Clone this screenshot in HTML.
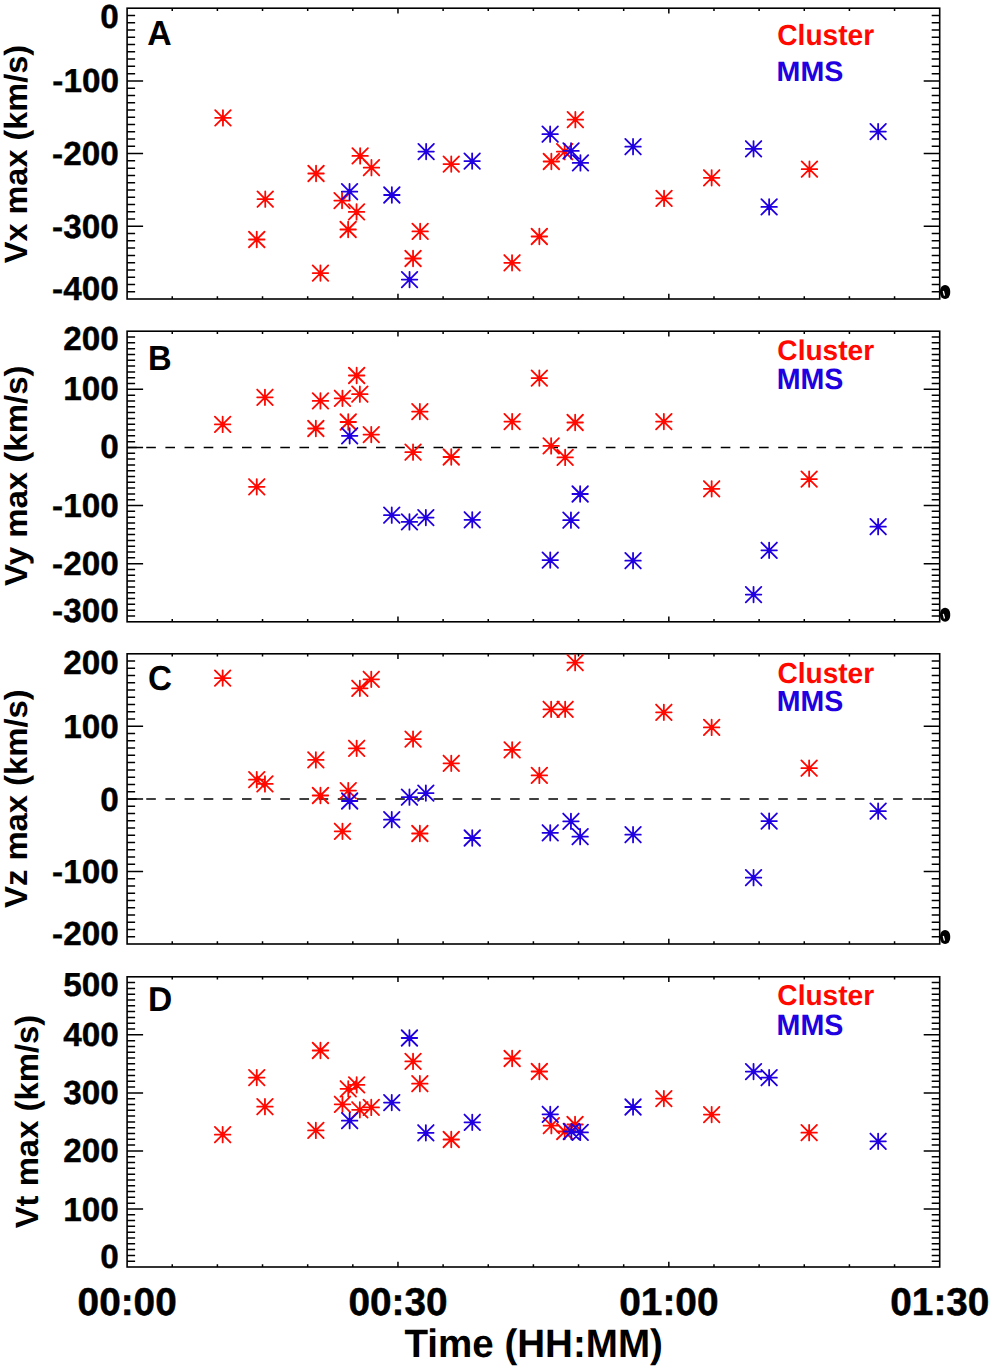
<!DOCTYPE html>
<html><head><meta charset="utf-8"><title>Velocity maxima</title>
<style>html,body{margin:0;padding:0;background:#fff;}svg{display:block;}text{font-family:"Liberation Sans",sans-serif;font-weight:bold;text-rendering:geometricPrecision;}</style></head><body>
<svg width="992" height="1369" viewBox="0 0 992 1369">
<rect width="992" height="1369" fill="#fff"/>
<path d="M127.10 291.73h8M939.70 291.73h-8M127.10 284.46h8M939.70 284.46h-8M127.10 277.19h8M939.70 277.19h-8M127.10 269.92h8M939.70 269.92h-8M127.10 262.65h8M939.70 262.65h-8M127.10 255.38h8M939.70 255.38h-8M127.10 248.11h8M939.70 248.11h-8M127.10 240.84h8M939.70 240.84h-8M127.10 233.57h8M939.70 233.57h-8M127.10 226.30h16M939.70 226.30h-16M127.10 219.03h8M939.70 219.03h-8M127.10 211.76h8M939.70 211.76h-8M127.10 204.49h8M939.70 204.49h-8M127.10 197.22h8M939.70 197.22h-8M127.10 189.95h8M939.70 189.95h-8M127.10 182.68h8M939.70 182.68h-8M127.10 175.41h8M939.70 175.41h-8M127.10 168.14h8M939.70 168.14h-8M127.10 160.87h8M939.70 160.87h-8M127.10 153.60h16M939.70 153.60h-16M127.10 146.33h8M939.70 146.33h-8M127.10 139.06h8M939.70 139.06h-8M127.10 131.79h8M939.70 131.79h-8M127.10 124.52h8M939.70 124.52h-8M127.10 117.25h8M939.70 117.25h-8M127.10 109.98h8M939.70 109.98h-8M127.10 102.71h8M939.70 102.71h-8M127.10 95.44h8M939.70 95.44h-8M127.10 88.17h8M939.70 88.17h-8M127.10 80.90h16M939.70 80.90h-16M127.10 73.63h8M939.70 73.63h-8M127.10 66.36h8M939.70 66.36h-8M127.10 59.09h8M939.70 59.09h-8M127.10 51.82h8M939.70 51.82h-8M127.10 44.55h8M939.70 44.55h-8M127.10 37.28h8M939.70 37.28h-8M127.10 30.01h8M939.70 30.01h-8M127.10 22.74h8M939.70 22.74h-8M127.10 15.47h8M939.70 15.47h-8M172.24 299.00v-2.7M172.24 8.20v2.7M217.39 299.00v-2.7M217.39 8.20v2.7M262.53 299.00v-2.7M262.53 8.20v2.7M307.68 299.00v-2.7M307.68 8.20v2.7M352.82 299.00v-2.7M352.82 8.20v2.7M397.97 299.00v-5.3M397.97 8.20v5.3M443.11 299.00v-2.7M443.11 8.20v2.7M488.26 299.00v-2.7M488.26 8.20v2.7M533.40 299.00v-2.7M533.40 8.20v2.7M578.54 299.00v-2.7M578.54 8.20v2.7M623.69 299.00v-2.7M623.69 8.20v2.7M668.83 299.00v-5.3M668.83 8.20v5.3M713.98 299.00v-2.7M713.98 8.20v2.7M759.12 299.00v-2.7M759.12 8.20v2.7M804.27 299.00v-2.7M804.27 8.20v2.7M849.41 299.00v-2.7M849.41 8.20v2.7M894.56 299.00v-2.7M894.56 8.20v2.7" stroke="#000" stroke-width="1.5" fill="none"/>
<rect x="127.1" y="8.2" width="812.60" height="290.80" fill="none" stroke="#000" stroke-width="1.6"/>
<path d="M215.20 117.90H230.70M222.95 110.15V125.65M215.20 110.15L230.70 125.65M215.20 125.65L230.70 110.15M249.00 239.50H264.50M256.75 231.75V247.25M249.00 231.75L264.50 247.25M249.00 247.25L264.50 231.75M257.50 199.20H273.00M265.25 191.45V206.95M257.50 191.45L273.00 206.95M257.50 206.95L273.00 191.45M308.30 173.50H323.80M316.05 165.75V181.25M308.30 165.75L323.80 181.25M308.30 181.25L323.80 165.75M312.70 273.10H328.20M320.45 265.35V280.85M312.70 265.35L328.20 280.85M312.70 280.85L328.20 265.35M334.30 200.60H349.80M342.05 192.85V208.35M334.30 192.85L349.80 208.35M334.30 208.35L349.80 192.85M340.40 229.50H355.90M348.15 221.75V237.25M340.40 221.75L355.90 237.25M340.40 237.25L355.90 221.75M348.80 211.90H364.30M356.55 204.15V219.65M348.80 204.15L364.30 219.65M348.80 219.65L364.30 204.15M352.40 155.90H367.90M360.15 148.15V163.65M352.40 148.15L367.90 163.65M352.40 163.65L367.90 148.15M363.70 167.70H379.20M371.45 159.95V175.45M363.70 159.95L379.20 175.45M363.70 175.45L379.20 159.95M405.30 258.50H420.80M413.05 250.75V266.25M405.30 250.75L420.80 266.25M405.30 266.25L420.80 250.75M412.40 231.40H427.90M420.15 223.65V239.15M412.40 223.65L427.90 239.15M412.40 239.15L427.90 223.65M443.50 164.10H459.00M451.25 156.35V171.85M443.50 156.35L459.00 171.85M443.50 171.85L459.00 156.35M504.30 262.80H519.80M512.05 255.05V270.55M504.30 255.05L519.80 270.55M504.30 270.55L519.80 255.05M531.60 236.50H547.10M539.35 228.75V244.25M531.60 228.75L547.10 244.25M531.60 244.25L547.10 228.75M543.60 161.50H559.10M551.35 153.75V169.25M543.60 153.75L559.10 169.25M543.60 169.25L559.10 153.75M556.90 151.70H572.40M564.65 143.95V159.45M556.90 143.95L572.40 159.45M556.90 159.45L572.40 143.95M567.60 119.70H583.10M575.35 111.95V127.45M567.60 111.95L583.10 127.45M567.60 127.45L583.10 111.95M656.30 198.40H671.80M664.05 190.65V206.15M656.30 190.65L671.80 206.15M656.30 206.15L671.80 190.65M703.90 177.80H719.40M711.65 170.05V185.55M703.90 170.05L719.40 185.55M703.90 185.55L719.40 170.05M801.70 169.20H817.20M809.45 161.45V176.95M801.70 161.45L817.20 176.95M801.70 176.95L817.20 161.45" stroke="#ff0800" stroke-width="1.8" stroke-linecap="round" fill="none"/>
<path d="M341.80 191.70H357.30M349.55 183.95V199.45M341.80 183.95L357.30 199.45M341.80 199.45L357.30 183.95M384.10 195.00H399.60M391.85 187.25V202.75M384.10 187.25L399.60 202.75M384.10 202.75L399.60 187.25M401.80 279.60H417.30M409.55 271.85V287.35M401.80 271.85L417.30 287.35M401.80 287.35L417.30 271.85M418.40 151.60H433.90M426.15 143.85V159.35M418.40 143.85L433.90 159.35M418.40 159.35L433.90 143.85M464.40 161.10H479.90M472.15 153.35V168.85M464.40 153.35L479.90 168.85M464.40 168.85L479.90 153.35M542.40 134.20H557.90M550.15 126.45V141.95M542.40 126.45L557.90 141.95M542.40 141.95L557.90 126.45M563.30 150.90H578.80M571.05 143.15V158.65M563.30 143.15L578.80 158.65M563.30 158.65L578.80 143.15M572.70 162.90H588.20M580.45 155.15V170.65M572.70 155.15L588.20 170.65M572.70 170.65L588.20 155.15M625.30 146.70H640.80M633.05 138.95V154.45M625.30 138.95L640.80 154.45M625.30 154.45L640.80 138.95M745.80 148.80H761.30M753.55 141.05V156.55M745.80 141.05L761.30 156.55M745.80 156.55L761.30 141.05M761.40 206.90H776.90M769.15 199.15V214.65M761.40 199.15L776.90 214.65M761.40 214.65L776.90 199.15M870.40 131.60H885.90M878.15 123.85V139.35M870.40 123.85L885.90 139.35M870.40 139.35L885.90 123.85" stroke="#2000e0" stroke-width="1.8" stroke-linecap="round" fill="none"/>
<path d="M127.10 615.99h8M939.70 615.99h-8M127.10 610.18h8M939.70 610.18h-8M127.10 604.36h8M939.70 604.36h-8M127.10 598.55h8M939.70 598.55h-8M127.10 592.74h8M939.70 592.74h-8M127.10 586.93h8M939.70 586.93h-8M127.10 581.12h8M939.70 581.12h-8M127.10 575.30h8M939.70 575.30h-8M127.10 569.49h8M939.70 569.49h-8M127.10 563.68h16M939.70 563.68h-16M127.10 557.87h8M939.70 557.87h-8M127.10 552.06h8M939.70 552.06h-8M127.10 546.24h8M939.70 546.24h-8M127.10 540.43h8M939.70 540.43h-8M127.10 534.62h8M939.70 534.62h-8M127.10 528.81h8M939.70 528.81h-8M127.10 523.00h8M939.70 523.00h-8M127.10 517.18h8M939.70 517.18h-8M127.10 511.37h8M939.70 511.37h-8M127.10 505.56h16M939.70 505.56h-16M127.10 499.75h8M939.70 499.75h-8M127.10 493.94h8M939.70 493.94h-8M127.10 488.12h8M939.70 488.12h-8M127.10 482.31h8M939.70 482.31h-8M127.10 476.50h8M939.70 476.50h-8M127.10 470.69h8M939.70 470.69h-8M127.10 464.88h8M939.70 464.88h-8M127.10 459.06h8M939.70 459.06h-8M127.10 453.25h8M939.70 453.25h-8M127.10 447.44h16M939.70 447.44h-16M127.10 441.63h8M939.70 441.63h-8M127.10 435.82h8M939.70 435.82h-8M127.10 430.00h8M939.70 430.00h-8M127.10 424.19h8M939.70 424.19h-8M127.10 418.38h8M939.70 418.38h-8M127.10 412.57h8M939.70 412.57h-8M127.10 406.76h8M939.70 406.76h-8M127.10 400.94h8M939.70 400.94h-8M127.10 395.13h8M939.70 395.13h-8M127.10 389.32h16M939.70 389.32h-16M127.10 383.51h8M939.70 383.51h-8M127.10 377.70h8M939.70 377.70h-8M127.10 371.88h8M939.70 371.88h-8M127.10 366.07h8M939.70 366.07h-8M127.10 360.26h8M939.70 360.26h-8M127.10 354.45h8M939.70 354.45h-8M127.10 348.64h8M939.70 348.64h-8M127.10 342.82h8M939.70 342.82h-8M127.10 337.01h8M939.70 337.01h-8M172.24 621.80v-2.7M172.24 331.20v2.7M217.39 621.80v-2.7M217.39 331.20v2.7M262.53 621.80v-2.7M262.53 331.20v2.7M307.68 621.80v-2.7M307.68 331.20v2.7M352.82 621.80v-2.7M352.82 331.20v2.7M397.97 621.80v-5.3M397.97 331.20v5.3M443.11 621.80v-2.7M443.11 331.20v2.7M488.26 621.80v-2.7M488.26 331.20v2.7M533.40 621.80v-2.7M533.40 331.20v2.7M578.54 621.80v-2.7M578.54 331.20v2.7M623.69 621.80v-2.7M623.69 331.20v2.7M668.83 621.80v-5.3M668.83 331.20v5.3M713.98 621.80v-2.7M713.98 331.20v2.7M759.12 621.80v-2.7M759.12 331.20v2.7M804.27 621.80v-2.7M804.27 331.20v2.7M849.41 621.80v-2.7M849.41 331.20v2.7M894.56 621.80v-2.7M894.56 331.20v2.7" stroke="#000" stroke-width="1.5" fill="none"/>
<rect x="127.1" y="331.2" width="812.60" height="290.60" fill="none" stroke="#000" stroke-width="1.6"/>
<line x1="127.1" y1="447.44" x2="939.7" y2="447.44" stroke="#000" stroke-width="1.5" stroke-dasharray="9.6 9.55"/>
<path d="M214.90 424.40H230.40M222.65 416.65V432.15M214.90 416.65L230.40 432.15M214.90 432.15L230.40 416.65M249.00 486.80H264.50M256.75 479.05V494.55M249.00 479.05L264.50 494.55M249.00 494.55L264.50 479.05M257.20 397.30H272.70M264.95 389.55V405.05M257.20 389.55L272.70 405.05M257.20 405.05L272.70 389.55M308.10 428.50H323.60M315.85 420.75V436.25M308.10 420.75L323.60 436.25M308.10 436.25L323.60 420.75M312.70 400.90H328.20M320.45 393.15V408.65M312.70 393.15L328.20 408.65M312.70 408.65L328.20 393.15M334.70 398.30H350.20M342.45 390.55V406.05M334.70 390.55L350.20 406.05M334.70 406.05L350.20 390.55M340.50 422.00H356.00M348.25 414.25V429.75M340.50 414.25L356.00 429.75M340.50 429.75L356.00 414.25M348.90 375.50H364.40M356.65 367.75V383.25M348.90 367.75L364.40 383.25M348.90 383.25L364.40 367.75M352.10 394.20H367.60M359.85 386.45V401.95M352.10 386.45L367.60 401.95M352.10 401.95L367.60 386.45M363.50 434.60H379.00M371.25 426.85V442.35M363.50 426.85L379.00 442.35M363.50 442.35L379.00 426.85M405.30 452.20H420.80M413.05 444.45V459.95M405.30 444.45L420.80 459.95M405.30 459.95L420.80 444.45M412.10 411.60H427.60M419.85 403.85V419.35M412.10 403.85L427.60 419.35M412.10 419.35L427.60 403.85M443.50 457.00H459.00M451.25 449.25V464.75M443.50 449.25L459.00 464.75M443.50 464.75L459.00 449.25M504.40 421.60H519.90M512.15 413.85V429.35M504.40 413.85L519.90 429.35M504.40 429.35L519.90 413.85M531.60 378.10H547.10M539.35 370.35V385.85M531.60 370.35L547.10 385.85M531.60 385.85L547.10 370.35M543.40 445.90H558.90M551.15 438.15V453.65M543.40 438.15L558.90 453.65M543.40 453.65L558.90 438.15M557.40 457.40H572.90M565.15 449.65V465.15M557.40 449.65L572.90 465.15M557.40 465.15L572.90 449.65M567.40 422.50H582.90M575.15 414.75V430.25M567.40 414.75L582.90 430.25M567.40 430.25L582.90 414.75M656.10 421.60H671.60M663.85 413.85V429.35M656.10 413.85L671.60 429.35M656.10 429.35L671.60 413.85M703.90 488.80H719.40M711.65 481.05V496.55M703.90 481.05L719.40 496.55M703.90 496.55L719.40 481.05M801.40 479.10H816.90M809.15 471.35V486.85M801.40 471.35L816.90 486.85M801.40 486.85L816.90 471.35" stroke="#ff0800" stroke-width="1.8" stroke-linecap="round" fill="none"/>
<path d="M341.90 435.80H357.40M349.65 428.05V443.55M341.90 428.05L357.40 443.55M341.90 443.55L357.40 428.05M384.00 515.20H399.50M391.75 507.45V522.95M384.00 507.45L399.50 522.95M384.00 522.95L399.50 507.45M401.70 521.90H417.20M409.45 514.15V529.65M401.70 514.15L417.20 529.65M401.70 529.65L417.20 514.15M418.10 517.60H433.60M425.85 509.85V525.35M418.10 509.85L433.60 525.35M418.10 525.35L433.60 509.85M464.50 519.80H480.00M472.25 512.05V527.55M464.50 512.05L480.00 527.55M464.50 527.55L480.00 512.05M542.50 560.10H558.00M550.25 552.35V567.85M542.50 552.35L558.00 567.85M542.50 567.85L558.00 552.35M563.20 520.20H578.70M570.95 512.45V527.95M563.20 512.45L578.70 527.95M563.20 527.95L578.70 512.45M572.40 494.00H587.90M580.15 486.25V501.75M572.40 486.25L587.90 501.75M572.40 501.75L587.90 486.25M625.30 560.70H640.80M633.05 552.95V568.45M625.30 552.95L640.80 568.45M625.30 568.45L640.80 552.95M745.80 594.60H761.30M753.55 586.85V602.35M745.80 586.85L761.30 602.35M745.80 602.35L761.30 586.85M761.40 550.30H776.90M769.15 542.55V558.05M761.40 542.55L776.90 558.05M761.40 558.05L776.90 542.55M870.40 526.70H885.90M878.15 518.95V534.45M870.40 518.95L885.90 534.45M870.40 534.45L885.90 518.95" stroke="#2000e0" stroke-width="1.8" stroke-linecap="round" fill="none"/>
<path d="M127.10 936.75h8M939.70 936.75h-8M127.10 929.49h8M939.70 929.49h-8M127.10 922.24h8M939.70 922.24h-8M127.10 914.98h8M939.70 914.98h-8M127.10 907.73h8M939.70 907.73h-8M127.10 900.47h8M939.70 900.47h-8M127.10 893.22h8M939.70 893.22h-8M127.10 885.96h8M939.70 885.96h-8M127.10 878.70h8M939.70 878.70h-8M127.10 871.45h16M939.70 871.45h-16M127.10 864.19h8M939.70 864.19h-8M127.10 856.94h8M939.70 856.94h-8M127.10 849.68h8M939.70 849.68h-8M127.10 842.43h8M939.70 842.43h-8M127.10 835.17h8M939.70 835.17h-8M127.10 827.92h8M939.70 827.92h-8M127.10 820.66h8M939.70 820.66h-8M127.10 813.41h8M939.70 813.41h-8M127.10 806.15h8M939.70 806.15h-8M127.10 798.90h16M939.70 798.90h-16M127.10 791.64h8M939.70 791.64h-8M127.10 784.39h8M939.70 784.39h-8M127.10 777.13h8M939.70 777.13h-8M127.10 769.88h8M939.70 769.88h-8M127.10 762.62h8M939.70 762.62h-8M127.10 755.37h8M939.70 755.37h-8M127.10 748.12h8M939.70 748.12h-8M127.10 740.86h8M939.70 740.86h-8M127.10 733.61h8M939.70 733.61h-8M127.10 726.35h16M939.70 726.35h-16M127.10 719.10h8M939.70 719.10h-8M127.10 711.84h8M939.70 711.84h-8M127.10 704.58h8M939.70 704.58h-8M127.10 697.33h8M939.70 697.33h-8M127.10 690.07h8M939.70 690.07h-8M127.10 682.82h8M939.70 682.82h-8M127.10 675.56h8M939.70 675.56h-8M127.10 668.31h8M939.70 668.31h-8M127.10 661.05h8M939.70 661.05h-8M172.24 944.00v-2.7M172.24 653.80v2.7M217.39 944.00v-2.7M217.39 653.80v2.7M262.53 944.00v-2.7M262.53 653.80v2.7M307.68 944.00v-2.7M307.68 653.80v2.7M352.82 944.00v-2.7M352.82 653.80v2.7M397.97 944.00v-5.3M397.97 653.80v5.3M443.11 944.00v-2.7M443.11 653.80v2.7M488.26 944.00v-2.7M488.26 653.80v2.7M533.40 944.00v-2.7M533.40 653.80v2.7M578.54 944.00v-2.7M578.54 653.80v2.7M623.69 944.00v-2.7M623.69 653.80v2.7M668.83 944.00v-5.3M668.83 653.80v5.3M713.98 944.00v-2.7M713.98 653.80v2.7M759.12 944.00v-2.7M759.12 653.80v2.7M804.27 944.00v-2.7M804.27 653.80v2.7M849.41 944.00v-2.7M849.41 653.80v2.7M894.56 944.00v-2.7M894.56 653.80v2.7" stroke="#000" stroke-width="1.5" fill="none"/>
<rect x="127.1" y="653.8" width="812.60" height="290.20" fill="none" stroke="#000" stroke-width="1.6"/>
<line x1="127.1" y1="798.90" x2="939.7" y2="798.90" stroke="#000" stroke-width="1.5" stroke-dasharray="9.6 9.55"/>
<path d="M214.90 678.10H230.40M222.65 670.35V685.85M214.90 670.35L230.40 685.85M214.90 685.85L230.40 670.35M249.00 779.70H264.50M256.75 771.95V787.45M249.00 771.95L264.50 787.45M249.00 787.45L264.50 771.95M257.20 783.90H272.70M264.95 776.15V791.65M257.20 776.15L272.70 791.65M257.20 791.65L272.70 776.15M308.10 759.90H323.60M315.85 752.15V767.65M308.10 752.15L323.60 767.65M308.10 767.65L323.60 752.15M312.70 795.50H328.20M320.45 787.75V803.25M312.70 787.75L328.20 803.25M312.70 803.25L328.20 787.75M334.70 831.30H350.20M342.45 823.55V839.05M334.70 823.55L350.20 839.05M334.70 839.05L350.20 823.55M340.50 790.60H356.00M348.25 782.85V798.35M340.50 782.85L356.00 798.35M340.50 798.35L356.00 782.85M348.90 748.30H364.40M356.65 740.55V756.05M348.90 740.55L364.40 756.05M348.90 756.05L364.40 740.55M352.10 688.30H367.60M359.85 680.55V696.05M352.10 680.55L367.60 696.05M352.10 696.05L367.60 680.55M363.50 679.30H379.00M371.25 671.55V687.05M363.50 671.55L379.00 687.05M363.50 687.05L379.00 671.55M405.30 739.10H420.80M413.05 731.35V746.85M405.30 731.35L420.80 746.85M405.30 746.85L420.80 731.35M412.10 833.50H427.60M419.85 825.75V841.25M412.10 825.75L427.60 841.25M412.10 841.25L427.60 825.75M443.50 763.30H459.00M451.25 755.55V771.05M443.50 755.55L459.00 771.05M443.50 771.05L459.00 755.55M504.40 749.90H519.90M512.15 742.15V757.65M504.40 742.15L519.90 757.65M504.40 757.65L519.90 742.15M531.60 775.40H547.10M539.35 767.65V783.15M531.60 767.65L547.10 783.15M531.60 783.15L547.10 767.65M543.40 709.30H558.90M551.15 701.55V717.05M543.40 701.55L558.90 717.05M543.40 717.05L558.90 701.55M557.40 709.30H572.90M565.15 701.55V717.05M557.40 701.55L572.90 717.05M557.40 717.05L572.90 701.55M567.40 662.70H582.90M575.15 654.95V670.45M567.40 654.95L582.90 670.45M567.40 670.45L582.90 654.95M656.10 712.30H671.60M663.85 704.55V720.05M656.10 704.55L671.60 720.05M656.10 720.05L671.60 704.55M703.90 727.40H719.40M711.65 719.65V735.15M703.90 719.65L719.40 735.15M703.90 735.15L719.40 719.65M801.40 768.20H816.90M809.15 760.45V775.95M801.40 760.45L816.90 775.95M801.40 775.95L816.90 760.45" stroke="#ff0800" stroke-width="1.8" stroke-linecap="round" fill="none"/>
<path d="M341.90 801.00H357.40M349.65 793.25V808.75M341.90 793.25L357.40 808.75M341.90 808.75L357.40 793.25M384.00 819.70H399.50M391.75 811.95V827.45M384.00 811.95L399.50 827.45M384.00 827.45L399.50 811.95M401.70 797.20H417.20M409.45 789.45V804.95M401.70 789.45L417.20 804.95M401.70 804.95L417.20 789.45M418.10 793.10H433.60M425.85 785.35V800.85M418.10 785.35L433.60 800.85M418.10 800.85L433.60 785.35M464.50 838.00H480.00M472.25 830.25V845.75M464.50 830.25L480.00 845.75M464.50 845.75L480.00 830.25M542.50 832.80H558.00M550.25 825.05V840.55M542.50 825.05L558.00 840.55M542.50 840.55L558.00 825.05M563.20 821.30H578.70M570.95 813.55V829.05M563.20 813.55L578.70 829.05M563.20 829.05L578.70 813.55M572.40 836.70H587.90M580.15 828.95V844.45M572.40 828.95L587.90 844.45M572.40 844.45L587.90 828.95M625.30 834.70H640.80M633.05 826.95V842.45M625.30 826.95L640.80 842.45M625.30 842.45L640.80 826.95M745.80 877.70H761.30M753.55 869.95V885.45M745.80 869.95L761.30 885.45M745.80 885.45L761.30 869.95M761.40 821.10H776.90M769.15 813.35V828.85M761.40 813.35L776.90 828.85M761.40 828.85L776.90 813.35M870.40 811.20H885.90M878.15 803.45V818.95M870.40 803.45L885.90 818.95M870.40 818.95L885.90 803.45" stroke="#2000e0" stroke-width="1.8" stroke-linecap="round" fill="none"/>
<path d="M127.10 1261.20h8M939.70 1261.20h-8M127.10 1255.39h8M939.70 1255.39h-8M127.10 1249.59h8M939.70 1249.59h-8M127.10 1243.78h8M939.70 1243.78h-8M127.10 1237.98h8M939.70 1237.98h-8M127.10 1232.18h8M939.70 1232.18h-8M127.10 1226.37h8M939.70 1226.37h-8M127.10 1220.57h8M939.70 1220.57h-8M127.10 1214.76h8M939.70 1214.76h-8M127.10 1208.96h16M939.70 1208.96h-16M127.10 1203.16h8M939.70 1203.16h-8M127.10 1197.35h8M939.70 1197.35h-8M127.10 1191.55h8M939.70 1191.55h-8M127.10 1185.74h8M939.70 1185.74h-8M127.10 1179.94h8M939.70 1179.94h-8M127.10 1174.14h8M939.70 1174.14h-8M127.10 1168.33h8M939.70 1168.33h-8M127.10 1162.53h8M939.70 1162.53h-8M127.10 1156.72h8M939.70 1156.72h-8M127.10 1150.92h16M939.70 1150.92h-16M127.10 1145.12h8M939.70 1145.12h-8M127.10 1139.31h8M939.70 1139.31h-8M127.10 1133.51h8M939.70 1133.51h-8M127.10 1127.70h8M939.70 1127.70h-8M127.10 1121.90h8M939.70 1121.90h-8M127.10 1116.10h8M939.70 1116.10h-8M127.10 1110.29h8M939.70 1110.29h-8M127.10 1104.49h8M939.70 1104.49h-8M127.10 1098.68h8M939.70 1098.68h-8M127.10 1092.88h16M939.70 1092.88h-16M127.10 1087.08h8M939.70 1087.08h-8M127.10 1081.27h8M939.70 1081.27h-8M127.10 1075.47h8M939.70 1075.47h-8M127.10 1069.66h8M939.70 1069.66h-8M127.10 1063.86h8M939.70 1063.86h-8M127.10 1058.06h8M939.70 1058.06h-8M127.10 1052.25h8M939.70 1052.25h-8M127.10 1046.45h8M939.70 1046.45h-8M127.10 1040.64h8M939.70 1040.64h-8M127.10 1034.84h16M939.70 1034.84h-16M127.10 1029.04h8M939.70 1029.04h-8M127.10 1023.23h8M939.70 1023.23h-8M127.10 1017.43h8M939.70 1017.43h-8M127.10 1011.62h8M939.70 1011.62h-8M127.10 1005.82h8M939.70 1005.82h-8M127.10 1000.02h8M939.70 1000.02h-8M127.10 994.21h8M939.70 994.21h-8M127.10 988.41h8M939.70 988.41h-8M127.10 982.60h8M939.70 982.60h-8M172.24 1267.00v-2.7M172.24 976.80v2.7M217.39 1267.00v-2.7M217.39 976.80v2.7M262.53 1267.00v-2.7M262.53 976.80v2.7M307.68 1267.00v-2.7M307.68 976.80v2.7M352.82 1267.00v-2.7M352.82 976.80v2.7M397.97 1267.00v-5.3M397.97 976.80v5.3M443.11 1267.00v-2.7M443.11 976.80v2.7M488.26 1267.00v-2.7M488.26 976.80v2.7M533.40 1267.00v-2.7M533.40 976.80v2.7M578.54 1267.00v-2.7M578.54 976.80v2.7M623.69 1267.00v-2.7M623.69 976.80v2.7M668.83 1267.00v-5.3M668.83 976.80v5.3M713.98 1267.00v-2.7M713.98 976.80v2.7M759.12 1267.00v-2.7M759.12 976.80v2.7M804.27 1267.00v-2.7M804.27 976.80v2.7M849.41 1267.00v-2.7M849.41 976.80v2.7M894.56 1267.00v-2.7M894.56 976.80v2.7" stroke="#000" stroke-width="1.5" fill="none"/>
<rect x="127.1" y="976.8" width="812.60" height="290.20" fill="none" stroke="#000" stroke-width="1.6"/>
<path d="M214.90 1134.70H230.40M222.65 1126.95V1142.45M214.90 1126.95L230.40 1142.45M214.90 1142.45L230.40 1126.95M249.00 1077.60H264.50M256.75 1069.85V1085.35M249.00 1069.85L264.50 1085.35M249.00 1085.35L264.50 1069.85M257.20 1106.70H272.70M264.95 1098.95V1114.45M257.20 1098.95L272.70 1114.45M257.20 1114.45L272.70 1098.95M308.10 1130.40H323.60M315.85 1122.65V1138.15M308.10 1122.65L323.60 1138.15M308.10 1138.15L323.60 1122.65M312.70 1050.50H328.20M320.45 1042.75V1058.25M312.70 1042.75L328.20 1058.25M312.70 1058.25L328.20 1042.75M334.70 1104.30H350.20M342.45 1096.55V1112.05M334.70 1096.55L350.20 1112.05M334.70 1112.05L350.20 1096.55M340.50 1088.80H356.00M348.25 1081.05V1096.55M340.50 1081.05L356.00 1096.55M340.50 1096.55L356.00 1081.05M348.90 1084.90H364.40M356.65 1077.15V1092.65M348.90 1077.15L364.40 1092.65M348.90 1092.65L364.40 1077.15M352.10 1109.80H367.60M359.85 1102.05V1117.55M352.10 1102.05L367.60 1117.55M352.10 1117.55L367.60 1102.05M363.50 1107.40H379.00M371.25 1099.65V1115.15M363.50 1099.65L379.00 1115.15M363.50 1115.15L379.00 1099.65M405.30 1061.40H420.80M413.05 1053.65V1069.15M405.30 1053.65L420.80 1069.15M405.30 1069.15L420.80 1053.65M412.10 1083.70H427.60M419.85 1075.95V1091.45M412.10 1075.95L427.60 1091.45M412.10 1091.45L427.60 1075.95M443.50 1139.50H459.00M451.25 1131.75V1147.25M443.50 1131.75L459.00 1147.25M443.50 1147.25L459.00 1131.75M504.40 1058.50H519.90M512.15 1050.75V1066.25M504.40 1050.75L519.90 1066.25M504.40 1066.25L519.90 1050.75M531.60 1071.50H547.10M539.35 1063.75V1079.25M531.60 1063.75L547.10 1079.25M531.60 1079.25L547.10 1063.75M543.60 1125.70H559.10M551.35 1117.95V1133.45M543.60 1117.95L559.10 1133.45M543.60 1133.45L559.10 1117.95M557.00 1131.50H572.50M564.75 1123.75V1139.25M557.00 1123.75L572.50 1139.25M557.00 1139.25L572.50 1123.75M567.30 1124.50H582.80M575.05 1116.75V1132.25M567.30 1116.75L582.80 1132.25M567.30 1132.25L582.80 1116.75M656.10 1098.60H671.60M663.85 1090.85V1106.35M656.10 1090.85L671.60 1106.35M656.10 1106.35L671.60 1090.85M703.90 1114.60H719.40M711.65 1106.85V1122.35M703.90 1106.85L719.40 1122.35M703.90 1122.35L719.40 1106.85M801.40 1132.70H816.90M809.15 1124.95V1140.45M801.40 1124.95L816.90 1140.45M801.40 1140.45L816.90 1124.95" stroke="#ff0800" stroke-width="1.8" stroke-linecap="round" fill="none"/>
<path d="M341.90 1120.70H357.40M349.65 1112.95V1128.45M341.90 1112.95L357.40 1128.45M341.90 1128.45L357.40 1112.95M384.00 1102.60H399.50M391.75 1094.85V1110.35M384.00 1094.85L399.50 1110.35M384.00 1110.35L399.50 1094.85M401.70 1038.00H417.20M409.45 1030.25V1045.75M401.70 1030.25L417.20 1045.75M401.70 1045.75L417.20 1030.25M418.10 1132.80H433.60M425.85 1125.05V1140.55M418.10 1125.05L433.60 1140.55M418.10 1140.55L433.60 1125.05M464.50 1122.30H480.00M472.25 1114.55V1130.05M464.50 1114.55L480.00 1130.05M464.50 1130.05L480.00 1114.55M542.50 1114.30H558.00M550.25 1106.55V1122.05M542.50 1106.55L558.00 1122.05M542.50 1122.05L558.00 1106.55M563.60 1131.50H579.10M571.35 1123.75V1139.25M563.60 1123.75L579.10 1139.25M563.60 1139.25L579.10 1123.75M572.50 1132.40H588.00M580.25 1124.65V1140.15M572.50 1124.65L588.00 1140.15M572.50 1140.15L588.00 1124.65M625.30 1107.00H640.80M633.05 1099.25V1114.75M625.30 1099.25L640.80 1114.75M625.30 1114.75L640.80 1099.25M745.80 1071.60H761.30M753.55 1063.85V1079.35M745.80 1063.85L761.30 1079.35M745.80 1079.35L761.30 1063.85M761.40 1077.70H776.90M769.15 1069.95V1085.45M761.40 1069.95L776.90 1085.45M761.40 1085.45L776.90 1069.95M870.40 1141.30H885.90M878.15 1133.55V1149.05M870.40 1133.55L885.90 1149.05M870.40 1149.05L885.90 1133.55" stroke="#2000e0" stroke-width="1.8" stroke-linecap="round" fill="none"/>
<rect x="940.0" y="284.90" width="10.2" height="14.1" rx="5.0" ry="6.0" fill="#000"/>
<line x1="943.3" y1="291.00" x2="944.5" y2="295.70" stroke="#fff" stroke-width="1.3"/>
<rect x="940.0" y="607.70" width="10.2" height="14.1" rx="5.0" ry="6.0" fill="#000"/>
<line x1="943.3" y1="613.80" x2="944.5" y2="618.50" stroke="#fff" stroke-width="1.3"/>
<rect x="940.0" y="929.90" width="10.2" height="14.1" rx="5.0" ry="6.0" fill="#000"/>
<line x1="943.3" y1="936.00" x2="944.5" y2="940.70" stroke="#fff" stroke-width="1.3"/>
<text font-size="100" fill="#000" stroke="#000" stroke-width="1.20" stroke-linejoin="round" transform="matrix(0.33300 0.00000 0.00000 0.33300 52.054 299.623)">-400</text>
<text font-size="100" fill="#000" stroke="#000" stroke-width="1.20" stroke-linejoin="round" transform="matrix(0.33300 0.00000 0.00000 0.33300 52.054 237.632)">-300</text>
<text font-size="100" fill="#000" stroke="#000" stroke-width="1.20" stroke-linejoin="round" transform="matrix(0.33300 0.00000 0.00000 0.33300 52.054 165.183)">-200</text>
<text font-size="100" fill="#000" stroke="#000" stroke-width="1.20" stroke-linejoin="round" transform="matrix(0.33300 0.00000 0.00000 0.33300 52.332 92.389)">-100</text>
<text font-size="100" fill="#000" stroke="#000" stroke-width="1.20" stroke-linejoin="round" transform="matrix(0.33300 0.00000 0.00000 0.33300 100.332 27.786)">0</text>
<text font-size="100" fill="#000" transform="matrix(0.33802 0.00000 0.00000 0.34787 147.205 45.348)">A</text>
<text font-size="100" fill="#ff0800" transform="matrix(0.28116 0.00000 0.00000 0.29193 777.287 44.902)">Cluster</text>
<text font-size="100" fill="#2000e0" transform="matrix(0.28597 0.00000 0.00000 0.28138 776.558 80.593)">MMS</text>
<text font-size="100" fill="#000" transform="matrix(0.00000 -0.32455 0.32249 0.00000 26.999 263.243)">Vx max (km/s)</text>
<text font-size="100" fill="#000" stroke="#000" stroke-width="1.20" stroke-linejoin="round" transform="matrix(0.33300 0.00000 0.00000 0.33300 52.054 621.872)">-300</text>
<text font-size="100" fill="#000" stroke="#000" stroke-width="1.20" stroke-linejoin="round" transform="matrix(0.33300 0.00000 0.00000 0.33300 52.047 574.736)">-200</text>
<text font-size="100" fill="#000" stroke="#000" stroke-width="1.20" stroke-linejoin="round" transform="matrix(0.33300 0.00000 0.00000 0.33300 52.054 516.759)">-100</text>
<text font-size="100" fill="#000" stroke="#000" stroke-width="1.20" stroke-linejoin="round" transform="matrix(0.33300 0.00000 0.00000 0.33300 100.332 458.214)">0</text>
<text font-size="100" fill="#000" stroke="#000" stroke-width="1.20" stroke-linejoin="round" transform="matrix(0.33300 0.00000 0.00000 0.33300 63.321 400.208)">100</text>
<text font-size="100" fill="#000" stroke="#000" stroke-width="1.20" stroke-linejoin="round" transform="matrix(0.33300 0.00000 0.00000 0.33300 63.321 349.988)">200</text>
<text font-size="100" fill="#000" transform="matrix(0.32736 0.00000 0.00000 0.34783 148.029 369.680)">B</text>
<text font-size="100" fill="#ff0800" transform="matrix(0.28104 0.00000 0.00000 0.28439 777.349 359.660)">Cluster</text>
<text font-size="100" fill="#2000e0" transform="matrix(0.28653 0.00000 0.00000 0.29257 776.636 388.599)">MMS</text>
<text font-size="100" fill="#000" transform="matrix(0.00000 -0.32991 0.31854 0.00000 27.474 586.122)">Vy max (km/s)</text>
<text font-size="100" fill="#000" stroke="#000" stroke-width="1.20" stroke-linejoin="round" transform="matrix(0.33300 0.00000 0.00000 0.33300 52.054 945.263)">-200</text>
<text font-size="100" fill="#000" stroke="#000" stroke-width="1.20" stroke-linejoin="round" transform="matrix(0.33300 0.00000 0.00000 0.33300 52.047 883.230)">-100</text>
<text font-size="100" fill="#000" stroke="#000" stroke-width="1.20" stroke-linejoin="round" transform="matrix(0.33300 0.00000 0.00000 0.33300 100.339 810.708)">0</text>
<text font-size="100" fill="#000" stroke="#000" stroke-width="1.20" stroke-linejoin="round" transform="matrix(0.33300 0.00000 0.00000 0.33300 63.321 738.238)">100</text>
<text font-size="100" fill="#000" stroke="#000" stroke-width="1.20" stroke-linejoin="round" transform="matrix(0.33300 0.00000 0.00000 0.33300 63.321 673.588)">200</text>
<text font-size="100" fill="#000" transform="matrix(0.33185 0.00000 0.00000 0.34743 148.030 690.227)">C</text>
<text font-size="100" fill="#ff0800" transform="matrix(0.28081 0.00000 0.00000 0.28887 777.407 682.643)">Cluster</text>
<text font-size="100" fill="#2000e0" transform="matrix(0.28555 0.00000 0.00000 0.29245 776.679 711.459)">MMS</text>
<text font-size="100" fill="#000" transform="matrix(0.00000 -0.32765 0.31980 0.00000 27.231 907.907)">Vz max (km/s)</text>
<text font-size="100" fill="#000" stroke="#000" stroke-width="1.20" stroke-linejoin="round" transform="matrix(0.33300 0.00000 0.00000 0.33300 100.339 1267.628)">0</text>
<text font-size="100" fill="#000" stroke="#000" stroke-width="1.20" stroke-linejoin="round" transform="matrix(0.33300 0.00000 0.00000 0.33300 63.314 1220.762)">100</text>
<text font-size="100" fill="#000" stroke="#000" stroke-width="1.20" stroke-linejoin="round" transform="matrix(0.33300 0.00000 0.00000 0.33300 63.321 1162.409)">200</text>
<text font-size="100" fill="#000" stroke="#000" stroke-width="1.20" stroke-linejoin="round" transform="matrix(0.33300 0.00000 0.00000 0.33300 63.321 1104.368)">300</text>
<text font-size="100" fill="#000" stroke="#000" stroke-width="1.20" stroke-linejoin="round" transform="matrix(0.33300 0.00000 0.00000 0.33300 63.321 1046.328)">400</text>
<text font-size="100" fill="#000" stroke="#000" stroke-width="1.20" stroke-linejoin="round" transform="matrix(0.33300 0.00000 0.00000 0.33300 63.321 996.188)">500</text>
<text font-size="100" fill="#000" transform="matrix(0.33551 0.00000 0.00000 0.34467 148.031 1010.796)">D</text>
<text font-size="100" fill="#ff0800" transform="matrix(0.28081 0.00000 0.00000 0.28542 777.370 1005.271)">Cluster</text>
<text font-size="100" fill="#2000e0" transform="matrix(0.28592 0.00000 0.00000 0.29333 776.615 1034.637)">MMS</text>
<text font-size="100" fill="#000" transform="matrix(0.00000 -0.32856 0.32249 0.00000 38.413 1228.337)">Vt max (km/s)</text>
<text font-size="100" fill="#000" stroke="#000" stroke-width="1.29" stroke-linejoin="round" transform="matrix(0.38782 0.00000 0.00000 0.38794 77.569 1315.368)">00:00</text>
<text font-size="100" fill="#000" stroke="#000" stroke-width="1.29" stroke-linejoin="round" transform="matrix(0.38800 0.00000 0.00000 0.38783 348.375 1315.230)">00:30</text>
<text font-size="100" fill="#000" stroke="#000" stroke-width="1.29" stroke-linejoin="round" transform="matrix(0.38821 0.00000 0.00000 0.38794 619.199 1315.368)">01:00</text>
<text font-size="100" fill="#000" stroke="#000" stroke-width="1.29" stroke-linejoin="round" transform="matrix(0.38761 0.00000 0.00000 0.38783 890.288 1315.230)">01:30</text>
<text font-size="100" fill="#000" transform="matrix(0.38568 0.00000 0.00000 0.39671 404.388 1356.517)">Time (HH:MM)</text>
</svg></body></html>
